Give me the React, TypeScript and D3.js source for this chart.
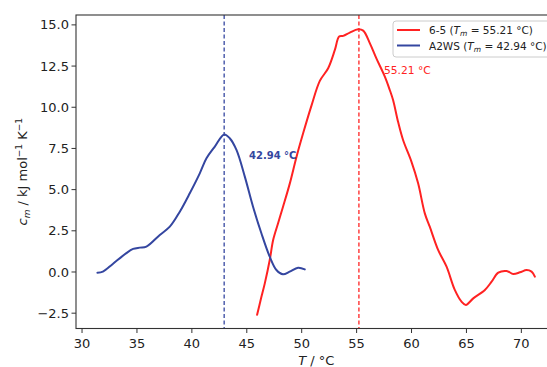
import React from "react";
import * as d3 from "d3";

const blueT = [31.4, 31.9, 32.8, 34.0, 34.65, 35.25, 35.86, 37.08, 37.99, 38.9, 39.81, 40.72, 41.33, 42.09, 42.94, 43.45, 44.06, 44.82, 45.57, 46.33, 47.09, 47.7, 48.3, 48.9, 49.67, 50.28];
const blueC = [-0.04, 0.02, 0.49, 1.13, 1.4, 1.48, 1.54, 2.25, 2.75, 3.66, 4.78, 5.99, 6.9, 7.61, 8.35, 8.12, 7.41, 5.79, 3.96, 2.35, 0.93, 0.12, -0.14, 0.02, 0.26, 0.16];

const redT = [45.94, 46.3, 46.64, 47.09, 47.4, 47.85, 48.3, 48.92, 49.53, 50.13, 50.89, 51.65, 52.41, 53.02, 53.41, 53.78, 54.38, 55.14, 55.6, 56.21, 56.81, 57.57, 58.02, 58.32, 58.78, 59.23, 59.99, 60.6, 61.21, 61.66, 62.42, 63.19, 63.94, 64.55, 64.95, 65.62, 66.68, 67.29, 67.9, 68.66, 69.26, 69.87, 70.48, 70.93, 71.23];
const redC = [-2.6, -1.6, -0.69, 0.73, 1.94, 2.96, 3.96, 5.38, 7.0, 8.42, 10.1, 11.6, 12.37, 13.48, 14.29, 14.33, 14.53, 14.73, 14.65, 13.88, 12.95, 11.86, 11.05, 10.44, 9.1, 8.01, 6.7, 5.38, 3.56, 2.75, 1.34, 0.32, -1.09, -1.8, -2.0, -1.6, -1.09, -0.59, -0.04, 0.06, -0.12, -0.02, 0.12, 0.02, -0.28];

const xTicks = [30, 35, 40, 45, 50, 55, 60, 65, 70];
const yTicks = [-2.5, 0, 2.5, 5, 7.5, 10, 12.5, 15];
const tmRed = 55.21;
const tmBlue = 42.94;

const RED = "#ff2222";
const BLUE = "#3446a0";
const FONT = "DejaVu Sans, sans-serif";

export default function App() {
  const x = d3.scaleLinear().domain([29.45, 73.2]).range([76, 556.5]);
  const y = d3.scaleLinear().domain([-3.43, 15.6]).range([328.5, 15]);
  const line = d3
    .line<[number, number]>()
    .x((d) => x(d[0]))
    .y((d) => y(d[1]))
    .curve(d3.curveCatmullRom.alpha(0.5));
  const blueData = blueT.map((t, i) => [t, blueC[i]] as [number, number]);
  const redData = redT.map((t, i) => [t, redC[i]] as [number, number]);
  const [x0, x1] = x.range();
  const [yb, yt] = y.range();
  const fmt = (v: number) => (v < 0 ? "\u2212" + Math.abs(v).toFixed(1) : v.toFixed(1));

  return (
    <svg
      width={547}
      height={367}
      style={{ position: "absolute", left: 0, top: 0, background: "#fff" }}
      fontFamily={FONT}
    >
      <rect x={0} y={0} width={547} height={367} fill="#fff" />
      <defs>
        <clipPath id="plot">
          <rect x={x0} y={yt} width={x1 - x0} height={yb - yt} />
        </clipPath>
      </defs>
      <g clipPath="url(#plot)">
        <line x1={x(tmBlue)} x2={x(tmBlue)} y1={yt} y2={yb} stroke={BLUE} strokeWidth={1.3} strokeDasharray="4,2.5" />
        <line x1={x(tmRed)} x2={x(tmRed)} y1={yt} y2={yb} stroke={RED} strokeWidth={1.3} strokeDasharray="4,2.5" />
        <path d={line(redData) || ""} fill="none" stroke={RED} strokeWidth={2} strokeLinejoin="round" strokeLinecap="round" />
        <path d={line(blueData) || ""} fill="none" stroke={BLUE} strokeWidth={2} strokeLinejoin="round" strokeLinecap="round" />
      </g>
      <text x={249} y={159} fontSize={10} fontWeight="bold" fill={BLUE}>
        {tmBlue.toFixed(2)} °C
      </text>
      <text x={384} y={74} fontSize={10.7} fill={RED}>
        {tmRed.toFixed(2)} °C
      </text>
      <rect x={x0} y={yt} width={x1 - x0} height={yb - yt} fill="none" stroke="#333" strokeWidth={1.1} />
      {xTicks.map((t) => (
        <g key={"x" + t} transform={`translate(${x(t)},${yb})`}>
          <line y1={0} y2={4.5} stroke="#333" strokeWidth={1} />
          <text y={19} textAnchor="middle" fontSize={13} fill="#222">
            {t}
          </text>
        </g>
      ))}
      {yTicks.map((t) => (
        <g key={"y" + t} transform={`translate(${x0},${y(t)})`}>
          <line x1={0} x2={-4.5} stroke="#333" strokeWidth={1} />
          <text x={-7} dy="0.35em" textAnchor="end" fontSize={13} fill="#222">
            {fmt(t)}
          </text>
        </g>
      ))}
      <text x={(x0 + x1) / 2} y={365} textAnchor="middle" fontSize={13} fill="#222">
        <tspan fontStyle="italic">T</tspan> / °C
      </text>
      <text transform={`translate(27,${(yt + yb) / 2}) rotate(-90)`} textAnchor="middle" fontSize={13} fill="#222">
        <tspan fontStyle="italic">c</tspan>
        <tspan fontStyle="italic" fontSize={9} dy={3}>m</tspan>
        <tspan dy={-3}> / kJ mol</tspan>
        <tspan fontSize={9} dy={-5}>−1</tspan>
        <tspan dy={5}> K</tspan>
        <tspan fontSize={9} dy={-5}>−1</tspan>
      </text>
      <g>
        <rect x={393} y={21} width={170} height={36} rx={3} fill="#fff" fillOpacity={0.85} stroke="#ccc" strokeWidth={1} />
        <line x1={397} x2={420} y1={30} y2={30} stroke={RED} strokeWidth={2} />
        <line x1={397} x2={420} y1={45.5} y2={45.5} stroke={BLUE} strokeWidth={2} />
        <text x={429} y={34} fontSize={10.5} fill="#222">
          6-5 (<tspan fontStyle="italic">T</tspan>
          <tspan fontStyle="italic" fontSize={7.5} dy={2}>m</tspan>
          <tspan dy={-2}> = {tmRed.toFixed(2)} °C)</tspan>
        </text>
        <text x={429} y={49.5} fontSize={10.5} fill="#222">
          A2WS (<tspan fontStyle="italic">T</tspan>
          <tspan fontStyle="italic" fontSize={7.5} dy={2}>m</tspan>
          <tspan dy={-2}> = {tmBlue.toFixed(2)} °C)</tspan>
        </text>
      </g>
    </svg>
  );
}
